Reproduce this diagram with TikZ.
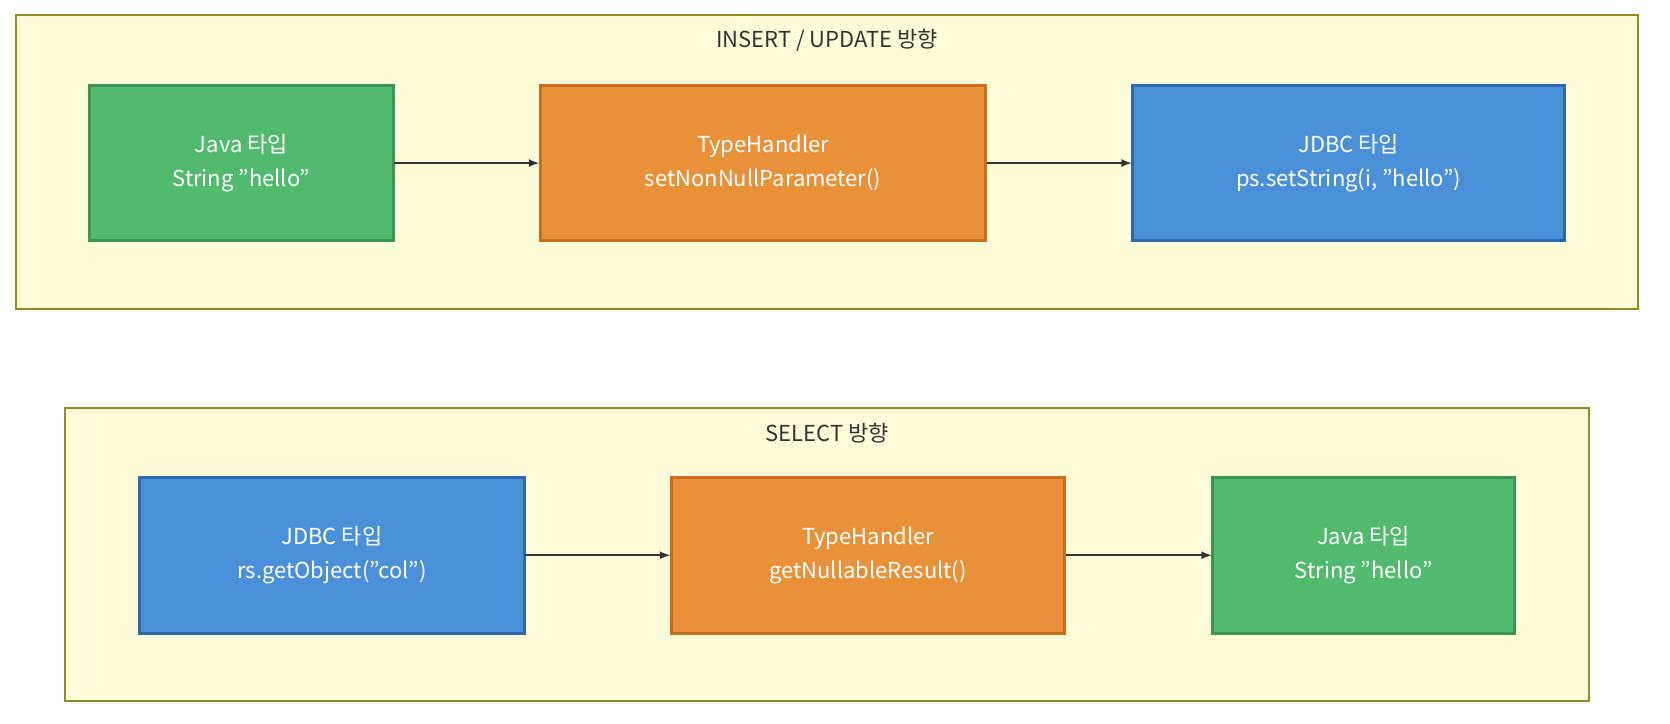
\documentclass[tikz,border=0pt]{standalone}
\usepackage{fontspec}
\setmainfont{Noto Sans CJK KR}
\begin{document}
\begin{tikzpicture}[x=0.533pt,y=-0.533pt,
  clus/.style={draw=olive!70!yellow!80!black,fill=yellow!15,line width=0.8pt},
  box/.style={draw,line width=1.5pt},
  java/.style={box,fill={rgb,255:red,82;green,186;blue,110},draw={rgb,255:red,60;green,150;blue,80}},
  th/.style={box,fill={rgb,255:red,232;green,145;blue,57},draw={rgb,255:red,200;green,110;blue,30}},
  jdbc/.style={box,fill={rgb,255:red,74;green,144;blue,217},draw={rgb,255:red,45;green,105;blue,170}},
  lbl/.style={text=white,align=center,font=\fontsize{11pt}{17pt}\selectfont},
  ttl/.style={text={rgb,255:red,51;green,51;blue,51},font=\fontsize{11pt}{14pt}\selectfont},
  arr/.style={-latex,draw={rgb,255:red,51;green,51;blue,51},line width=0.8pt}]
\useasboundingbox (0,0) rectangle (1567,679);
\draw[clus] (15,14) rectangle (1537,290);
\node[ttl] (t1) at (776,38) {INSERT / UPDATE 방향};
\draw[clus] (61,383) rectangle (1491,658);
\node[ttl] (t2) at (776,406) {SELECT 방향};
\draw[java] (84,80) rectangle (369,226); \node[lbl] (a) at (226.5,153) {Java 타입\\String "hello"};
\draw[th] (507,80) rectangle (925,226); \node[lbl] (b) at (716,153) {TypeHandler\\setNonNullParameter()};
\draw[jdbc] (1063,80) rectangle (1468,226); \node[lbl] (c) at (1265.5,153) {JDBC 타입\\ps.setString(i, "hello")};
\draw[jdbc] (131,448) rectangle (492,594); \node[lbl] (d) at (311.5,521) {JDBC 타입\\rs.getObject("col")};
\draw[th] (630,448) rectangle (999,594); \node[lbl] (e) at (814.5,521) {TypeHandler\\getNullableResult()};
\draw[java] (1138,448) rectangle (1421,594); \node[lbl] (f) at (1279.5,521) {Java 타입\\String "hello"};
\coordinate (a1) at (370,153); \coordinate (b0) at (506,153);
\coordinate (b1) at (926,153); \coordinate (c0) at (1062,153);
\coordinate (d1) at (493,521); \coordinate (e0) at (629,521);
\coordinate (e1) at (1000,521); \coordinate (f0) at (1137,521);
\draw[arr] (a1) -- (b0); \draw[arr] (b1) -- (c0);
\draw[arr] (d1) -- (e0); \draw[arr] (e1) -- (f0);
\end{tikzpicture}
\end{document}
